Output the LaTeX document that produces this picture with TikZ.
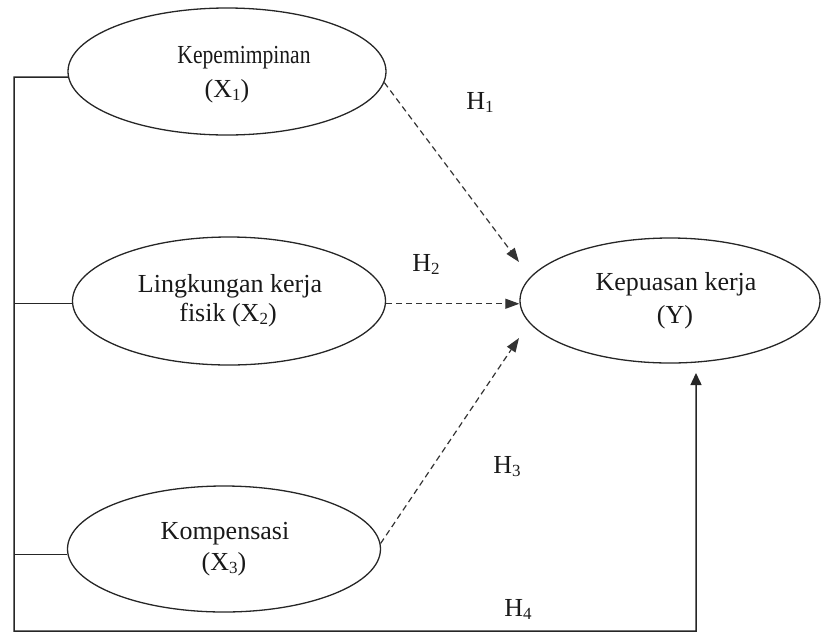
\documentclass[tikz,border=0pt]{standalone}
\usepackage{fontspec}
\usepackage{graphicx}
\setmainfont{Liberation Serif}
\usetikzlibrary{arrows.meta,shapes.geometric}
\newcommand{\sbs}[1]{\raisebox{-0.12em}{\fontsize{17}{17}\selectfont #1}}
\begin{document}
\begin{tikzpicture}[x=1pt,y=-1pt,
  var/.style={ellipse, draw=black!85, line width=1.3pt, inner sep=0pt},
  txt/.style={font=\fontsize{26}{31}\selectfont, inner sep=0pt, anchor=base, text=black!90},
  dsh/.style={line width=1.2pt, draw=black!80, dash pattern=on 6pt off 4pt, -{Triangle[length=14pt,width=10pt]}},
  frame/.style={line width=1.5pt, draw=black!85}]
\useasboundingbox (0,0) rectangle (822,633);
% ellipses
\node[var, minimum width=318pt, minimum height=127pt] (X1) at (227,71.5) {};
\node[var, minimum width=313pt, minimum height=128pt] (X2) at (229,301) {};
\node[var, minimum width=313pt, minimum height=126pt] (X3) at (224,549) {};
\node[var, minimum width=300pt, minimum height=125pt] (Y) at (670,300.5) {};
% texts
\node[txt] (t1a) at (244,63) {\scalebox{0.83}[1]{Kepemimpinan}};
\node[txt] (t1b) at (227,97) {(X\sbs{1})};
\node[txt] (t2a) at (230,292) {Lingkungan kerja};
\node[txt] (t2b) at (228,321) {fisik (X\sbs{2})};
\node[txt] (t3a) at (225,539) {Kompensasi};
\node[txt] (t3b) at (224,570) {(X\sbs{3})};
\node[txt] (ty1) at (676,290) {Kepuasan kerja};
\node[txt] (ty2) at (675,323) {(Y)};
% hypothesis labels
\node[txt] (h1) at (480,109) {H\sbs{1}};
\node[txt] (h2) at (426,271) {H\sbs{2}};
\node[txt] (h3) at (507,473) {H\sbs{3}};
\node[txt] (h4) at (518,616) {H\sbs{4}};
% coordinates
\coordinate (e1) at (519,262);
\coordinate (e3) at (519,338);
\coordinate (tl) at (14,77);
\coordinate (bl) at (14,631);
\coordinate (br) at (696,631);
\coordinate (e4) at (696,373);
% connectors
\draw[dsh] (X1.-4) -- (e1);
\draw[dsh] (X2.-1) -- (X2.-1 -| Y.west);
\draw[dsh] (X3.2) -- (e3);
\draw[frame, -{Triangle[length=12pt,width=11pt]}] (X1.182) -- (tl) -- (bl) -- (br) -- (e4);
\draw[frame] (X2.181) -- (X2.181 -| tl);
\draw[frame] (X3.182) -- (X3.182 -| tl);
\end{tikzpicture}
\end{document}
